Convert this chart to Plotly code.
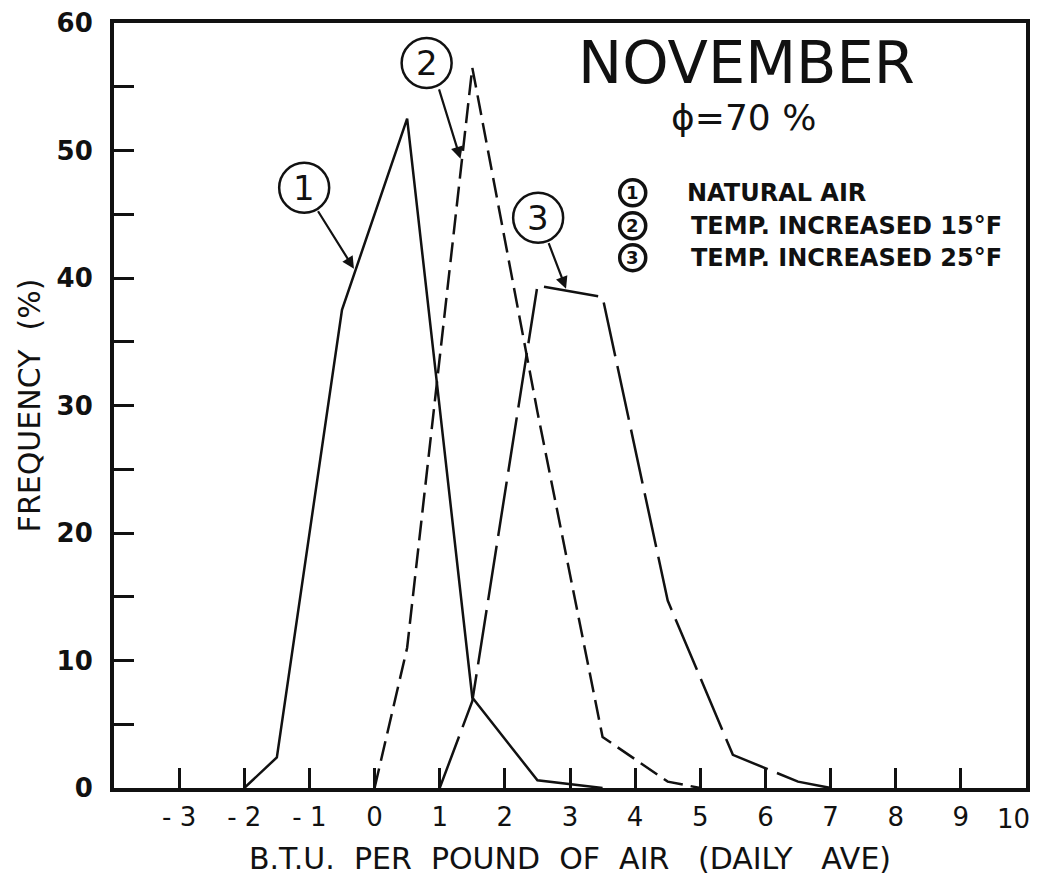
import plotly.graph_objects as go

# ---- data ----
x_natural = [-2, -1.5, -0.5, 0.5, 1.5, 2.5, 3.5]
y_natural = [0, 2.4, 37.5, 52.5, 7.1, 0.6, 0]

x_temp15 = [0, 0.5, 1.5, 2.5, 3.5, 4.5, 5]
y_temp15 = [0, 11, 56.5, 29.5, 4, 0.5, 0]

x_temp25 = [1, 1.5, 2.5, 3.5, 4.5, 5.5, 6.5, 7]
y_temp25 = [0, 6.8, 39.4, 38.5, 14.7, 2.6, 0.5, 0]

x_tickvals = [-3, -2, -1, 0, 1, 2, 3, 4, 5, 6, 7, 8, 9, 10]
x_ticktext = ["- 3", "- 2", "- 1", "0", "1", "2", "3", "4", "5", "6", "7", "8", "9", "10"]
y_tickvals = [0, 5, 10, 15, 20, 25, 30, 35, 40, 45, 50, 55, 60]
y_ticktext = ["0", "", "10", "", "20", "", "30", "", "40", "", "50", "", "60"]

legend_labels = ["NATURAL AIR", "TEMP. INCREASED 15°F", "TEMP. INCREASED 25°F"]

# ---- layout geometry ----
W, H = 1038, 882
ML, MR, MT, MB = 114, 8, 22, 94
XR = [-4, 10]
YR = [0, 60]
PW = W - ML - MR
PH = H - MT - MB


def px2x(px):
    return XR[0] + (px - ML) / PW * (XR[1] - XR[0])


def px2y(py):
    return YR[0] + (H - MB - py) / PH * (YR[1] - YR[0])


FONT = "DejaVu Sans"
BLACK = "#111111"

fig = go.Figure()
fig.add_trace(go.Scatter(x=x_natural, y=y_natural, mode="lines",
                         line=dict(color=BLACK, width=2.5), name=legend_labels[0]))
fig.add_trace(go.Scatter(x=x_temp15, y=y_temp15, mode="lines",
                         line=dict(color=BLACK, width=2.5, dash="20px,8px"), name=legend_labels[1]))
fig.add_trace(go.Scatter(x=x_temp25, y=y_temp25, mode="lines",
                         line=dict(color=BLACK, width=2.5, dash="55px,10px"), name=legend_labels[2]))

shapes = []
annotations = []

# big circled labels with arrows
circles = [
    ("1", 305, 187, (318, 209), (355, 268)),
    ("2", 428, 62, (440, 87), (462, 158)),
    ("3", 540, 217, (550, 241), (568, 288)),
]
for lab, cx, cy, tail, head in circles:
    shapes.append(dict(type="circle", xref="x", yref="y", xsizemode="pixel", ysizemode="pixel",
                       xanchor=px2x(cx), yanchor=px2y(cy), x0=-25, x1=25, y0=-25, y1=25,
                       line=dict(color=BLACK, width=2.5)))
    annotations.append(dict(x=px2x(cx), y=px2y(cy), xref="x", yref="y", text=lab, showarrow=False,
                            font=dict(family=FONT, size=34, color=BLACK), xanchor="center", yanchor="middle"))
    annotations.append(dict(x=px2x(head[0]), y=px2y(head[1]), ax=px2x(tail[0]), ay=px2y(tail[1]),
                            xref="x", yref="y", axref="x", ayref="y", text="", showarrow=True,
                            arrowhead=2, arrowsize=1.1, arrowwidth=2.2, arrowcolor=BLACK, standoff=0))

# title texts
annotations.append(dict(x=px2x(749), y=px2y(62), xref="x", yref="y", text="NOVEMBER", showarrow=False,
                        font=dict(family=FONT, size=59, color=BLACK), xanchor="center", yanchor="middle"))
annotations.append(dict(x=px2x(746), y=px2y(117), xref="x", yref="y", text="ϕ=70 %", showarrow=False,
                        font=dict(family=FONT, size=36, color=BLACK), xanchor="center", yanchor="middle"))

# legend block
leg_rows = [(192, 687), (225, 692), (257, 692)]
for i, (ry, tx) in enumerate(leg_rows):
    shapes.append(dict(type="circle", xref="x", yref="y", xsizemode="pixel", ysizemode="pixel",
                       xanchor=px2x(635), yanchor=px2y(ry), x0=-13, x1=13, y0=-13, y1=13,
                       line=dict(color=BLACK, width=3.5)))
    annotations.append(dict(x=px2x(635), y=px2y(ry), xref="x", yref="y", text="<b>" + str(i + 1) + "</b>",
                            showarrow=False, font=dict(family=FONT, size=18, color=BLACK),
                            xanchor="center", yanchor="middle"))
    annotations.append(dict(x=px2x(tx), y=px2y(ry), xref="x", yref="y", text="<b>" + legend_labels[i] + "</b>",
                            showarrow=False, font=dict(family=FONT, size=24, color=BLACK),
                            xanchor="left", yanchor="middle"))

# last x tick label drawn inside the frame edge (as in the reference)
annotations.append(dict(x=x_tickvals[-1], y=0, xref="x", yref="y", text=x_ticktext[-1], showarrow=False,
                        font=dict(family=FONT, size=26, color=BLACK), xanchor="right", yanchor="top",
                        xshift=6, yshift=-14))
x_ticktext_axis = x_ticktext[:-1] + [""]

axis_common = dict(showgrid=False, zeroline=False, showline=True, linecolor=BLACK, linewidth=4,
                   mirror=True, ticks="inside", ticklen=20, tickwidth=2.5, tickcolor=BLACK)

fig.update_layout(
    width=W, height=H,
    margin=dict(l=ML, r=MR, t=MT, b=MB),
    paper_bgcolor="white", plot_bgcolor="white",
    showlegend=False,
    shapes=shapes, annotations=annotations,
    xaxis=dict(range=XR, tickmode="array", tickvals=x_tickvals, ticktext=x_ticktext_axis,
               tickfont=dict(family=FONT, size=26, color=BLACK), ticklabelstandoff=3,
               title=dict(text="B.T.U.  PER  POUND  OF  AIR   (DAILY   AVE)",
                          font=dict(family=FONT, size=30, color=BLACK), standoff=18),
               **axis_common),
    yaxis=dict(range=YR, tickmode="array", tickvals=y_tickvals, ticktext=y_ticktext,
               tickfont=dict(family=FONT, size=26, color=BLACK, weight="bold"), ticklabelstandoff=12,
               title=dict(text="FREQUENCY  (%)", font=dict(family=FONT, size=30, color=BLACK), standoff=8),
               **axis_common),
)

fig.write_html("out.html")
